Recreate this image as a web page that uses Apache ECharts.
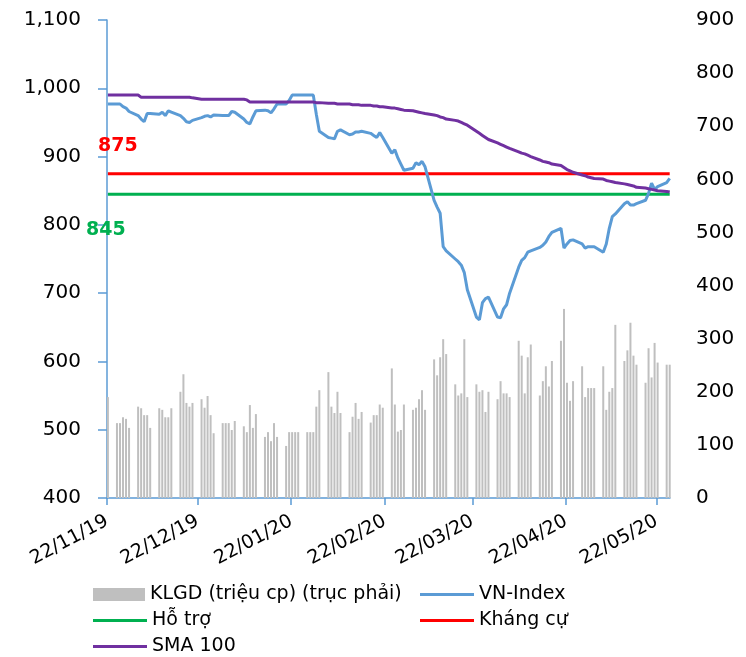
<!DOCTYPE html>
<html><head><meta charset="utf-8">
<script src="https://cdn.jsdelivr.net/npm/echarts@6/dist/echarts.min.js"></script>
<style>html,body{margin:0;padding:0;background:#fff}#c{width:746px;height:657px}</style>
</head><body><div id="c"></div>
<script>
const dates = [
'22/11/19',
'25/11/19','26/11/19','27/11/19','28/11/19','29/11/19',
'02/12/19','03/12/19','04/12/19','05/12/19','06/12/19',
'09/12/19','10/12/19','11/12/19','12/12/19','13/12/19',
'16/12/19','17/12/19','18/12/19','19/12/19','20/12/19',
'23/12/19','24/12/19','25/12/19','26/12/19','27/12/19',
'30/12/19','31/12/19','01/01/20','02/01/20','03/01/20',
'06/01/20','07/01/20','08/01/20','09/01/20','10/01/20',
'13/01/20','14/01/20','15/01/20','16/01/20','17/01/20',
'20/01/20','21/01/20','22/01/20','23/01/20','24/01/20',
'27/01/20','28/01/20','29/01/20','30/01/20','31/01/20',
'03/02/20','04/02/20','05/02/20','06/02/20','07/02/20',
'10/02/20','11/02/20','12/02/20','13/02/20','14/02/20',
'17/02/20','18/02/20','19/02/20','20/02/20','21/02/20',
'24/02/20','25/02/20','26/02/20','27/02/20','28/02/20',
'02/03/20','03/03/20','04/03/20','05/03/20','06/03/20',
'09/03/20','10/03/20','11/03/20','12/03/20','13/03/20',
'16/03/20','17/03/20','18/03/20','19/03/20','20/03/20',
'23/03/20','24/03/20','25/03/20','26/03/20','27/03/20',
'30/03/20','31/03/20','01/04/20','02/04/20','03/04/20',
'06/04/20','07/04/20','08/04/20','09/04/20','10/04/20',
'13/04/20','14/04/20','15/04/20','16/04/20','17/04/20',
'20/04/20','21/04/20','22/04/20','23/04/20','24/04/20',
'27/04/20','28/04/20','29/04/20','30/04/20','01/05/20',
'04/05/20','05/05/20','06/05/20','07/05/20','08/05/20',
'11/05/20','12/05/20','13/05/20','14/05/20','15/05/20',
'18/05/20','19/05/20','20/05/20','21/05/20','22/05/20',
'25/05/20','26/05/20'
];
const volume = [
190,
141,141,152,149,132,
172,169,156,156,132,
169,166,152,152,169,
200,233,179,172,179,
186,170,192,156,122,
141,141,141,128,145,
135,124,175,132,158,
115,124,107,141,115,
98,124,124,124,124,
124,124,124,172,203,
237,172,160,200,160,
124,153,179,149,162,
142,156,156,176,170,
244,176,125,128,176,
166,170,186,203,166,
261,231,265,299,271,
214,193,197,299,190,
214,200,203,162,200,
186,220,197,197,190,
296,268,197,265,289,
193,220,248,210,258,
296,356,217,183,220,
248,190,207,207,207,
248,166,200,207,326,
258,278,330,268,251,
217,282,227,292,255,
251,251
];
const vnIndex = [
977,
977,977,973,971,966,
960,955,951,963,963,
962,965,960,967,965,
960,956,951,950,953,
957,959,960,958,961,
960,960,960,966,965,
955,950,948,958,967,
968,967,964,970,977,
977,982,990,990,990,
990,990,990,962,937,
928,927,926,937,939,
932,933,936,936,937,
934,931,928,935,928,
905,910,898,889,880,
883,891,888,893,885,
836,826,817,768,762,
750,746,741,730,705,
665,661,686,692,694,
665,664,677,683,700,
738,748,752,760,762,
767,770,775,783,789,
795,766,772,777,778,
772,766,768,768,768,
760,772,795,812,816,
831,834,829,829,831,
836,846,861,852,856,
862,868
];
const sma100 = [
990,
990,990,990,990,990,
990,987,987,987,987,
987,987,987,987,987,
987,987,987,987,986,
984,984,984,984,984,
984,984,984,984,984,
984,983,980,980,980,
980,980,980,980,980,
980,980,980,980,980,
980,980,980,979,979,
978,978,978,977,977,
977,976,976,976,975,
975,974,974,973,973,
971,971,970,969,968,
967,966,965,964,963,
961,960,958,957,955,
953,952,950,948,946,
937,934,931,928,925,
920,918,916,914,912,
907,905,904,902,900,
895,893,892,891,889,
887,884,881,879,877,
873,872,870,869,868,
867,865,864,863,862,
860,859,858,857,855,
854,853,852,851,850,
849,848
];
const supportLevel = 845;
const resistanceLevel = 875;
const xTickLabels = ['22/11/19','22/12/19','22/01/20','22/02/20','22/03/20','22/04/20','22/05/20'];
const seriesNames = ['KLGD (triệu cp) (trục phải)','VN-Index','Hỗ trợ','Kháng cự','SMA 100'];

function parseD(s){const p=s.split('/').map(Number);return Date.UTC(2000+p[2],p[1]-1,p[0]);}
const t0 = parseD(xTickLabels[0]);
const dayOf = s => Math.round((parseD(s)-t0)/86400000);
const SHIFT = 0.3;
const xs = dates.map(d => dayOf(d) + SHIFT);
const tickDays = xTickLabels.map(dayOf);
const pair = arr => arr.map((v,i) => [xs[i], v]);
const flat = v => dates.map((d,i) => [xs[i], v]);

const FONT = 'DejaVu Sans';
const legText = {fontSize:19,color:'#000',fontFamily:FONT};
const levelLabel = (val, color, pos, off) => ({
  symbol:'circle', symbolSize:0,
  data:[{coord:[xs[0], val], value:val}],
  label:{show:true, position:pos, offset:off, formatter:'{c}', color:color, fontWeight:'bold', fontSize:19, fontFamily:FONT},
  itemStyle:{color:'rgba(0,0,0,0)'}
});

const chart = echarts.init(document.getElementById('c'));
chart.setOption({
  animation:false,
  backgroundColor:'#fff',
  textStyle:{fontFamily:FONT},
  grid:{left:107,right:76,top:20,bottom:159,containLabel:false},
  legend:[
    {data:[seriesNames[0]],icon:'rect',orient:'vertical',left:93,top:585,padding:0,itemWidth:52,itemHeight:13,textStyle:legText},
    {data:[seriesNames[2],seriesNames[4]],icon:'rect',orient:'vertical',left:93,top:611,padding:0,itemWidth:54,itemHeight:3,itemGap:7,textStyle:legText},
    {data:[seriesNames[1],seriesNames[3]],icon:'rect',orient:'vertical',left:420,top:585,padding:0,itemWidth:54,itemHeight:3,itemGap:7,textStyle:legText}
  ],
  xAxis:{type:'value',min:0,max:186.4,
    axisLine:{show:true,onZero:false,lineStyle:{color:'#5B9BD5',width:1.5}},
    axisTick:{show:true,customValues:tickDays,length:7,lineStyle:{color:'#5B9BD5',width:1.5}},
    axisLabel:{customValues:tickDays,rotate:28,margin:22,fontSize:19,color:'#000',fontFamily:FONT,
      formatter:v=>{const k=tickDays.indexOf(Math.round(v));return k>=0?xTickLabels[k]:'';}},
    splitLine:{show:false}},
  yAxis:[
    {type:'value',min:400,max:1100,interval:100,position:'left',
     axisLine:{show:true,lineStyle:{color:'#5B9BD5',width:1.5}},
     axisTick:{show:true,length:9,lineStyle:{color:'#5B9BD5',width:1.5}},
     axisLabel:{margin:26,fontSize:20,color:'#000',fontFamily:FONT,formatter:v=>v.toLocaleString('en-US')},
     splitLine:{show:false}},
    {type:'value',min:0,max:900,interval:100,position:'right',
     axisLine:{show:false},axisTick:{show:false},
     axisLabel:{margin:26,fontSize:20,color:'#000',fontFamily:FONT},
     splitLine:{show:false}}
  ],
  series:[
    {name:seriesNames[0],type:'bar',yAxisIndex:1,barWidth:2,itemStyle:{color:'#BFBFBF'},data:pair(volume)},
    {name:seriesNames[1],type:'line',yAxisIndex:0,symbol:'none',lineStyle:{color:'#5B9BD5',width:3},itemStyle:{color:'#5B9BD5'},data:pair(vnIndex),z:4},
    {name:seriesNames[2],type:'line',yAxisIndex:0,symbol:'none',lineStyle:{color:'#00B050',width:3},itemStyle:{color:'#00B050'},data:flat(supportLevel),z:3,
     markPoint:levelLabel(supportLevel,'#00B050','bottom',[-2,21])},
    {name:seriesNames[3],type:'line',yAxisIndex:0,symbol:'none',lineStyle:{color:'#FF0000',width:3},itemStyle:{color:'#FF0000'},data:flat(resistanceLevel),z:3,
     markPoint:levelLabel(resistanceLevel,'#FF0000','top',[10,-13])},
    {name:seriesNames[4],type:'line',yAxisIndex:0,symbol:'none',lineStyle:{color:'#7030A0',width:3},itemStyle:{color:'#7030A0'},data:pair(sma100),z:5}
  ]
});
</script></body></html>
